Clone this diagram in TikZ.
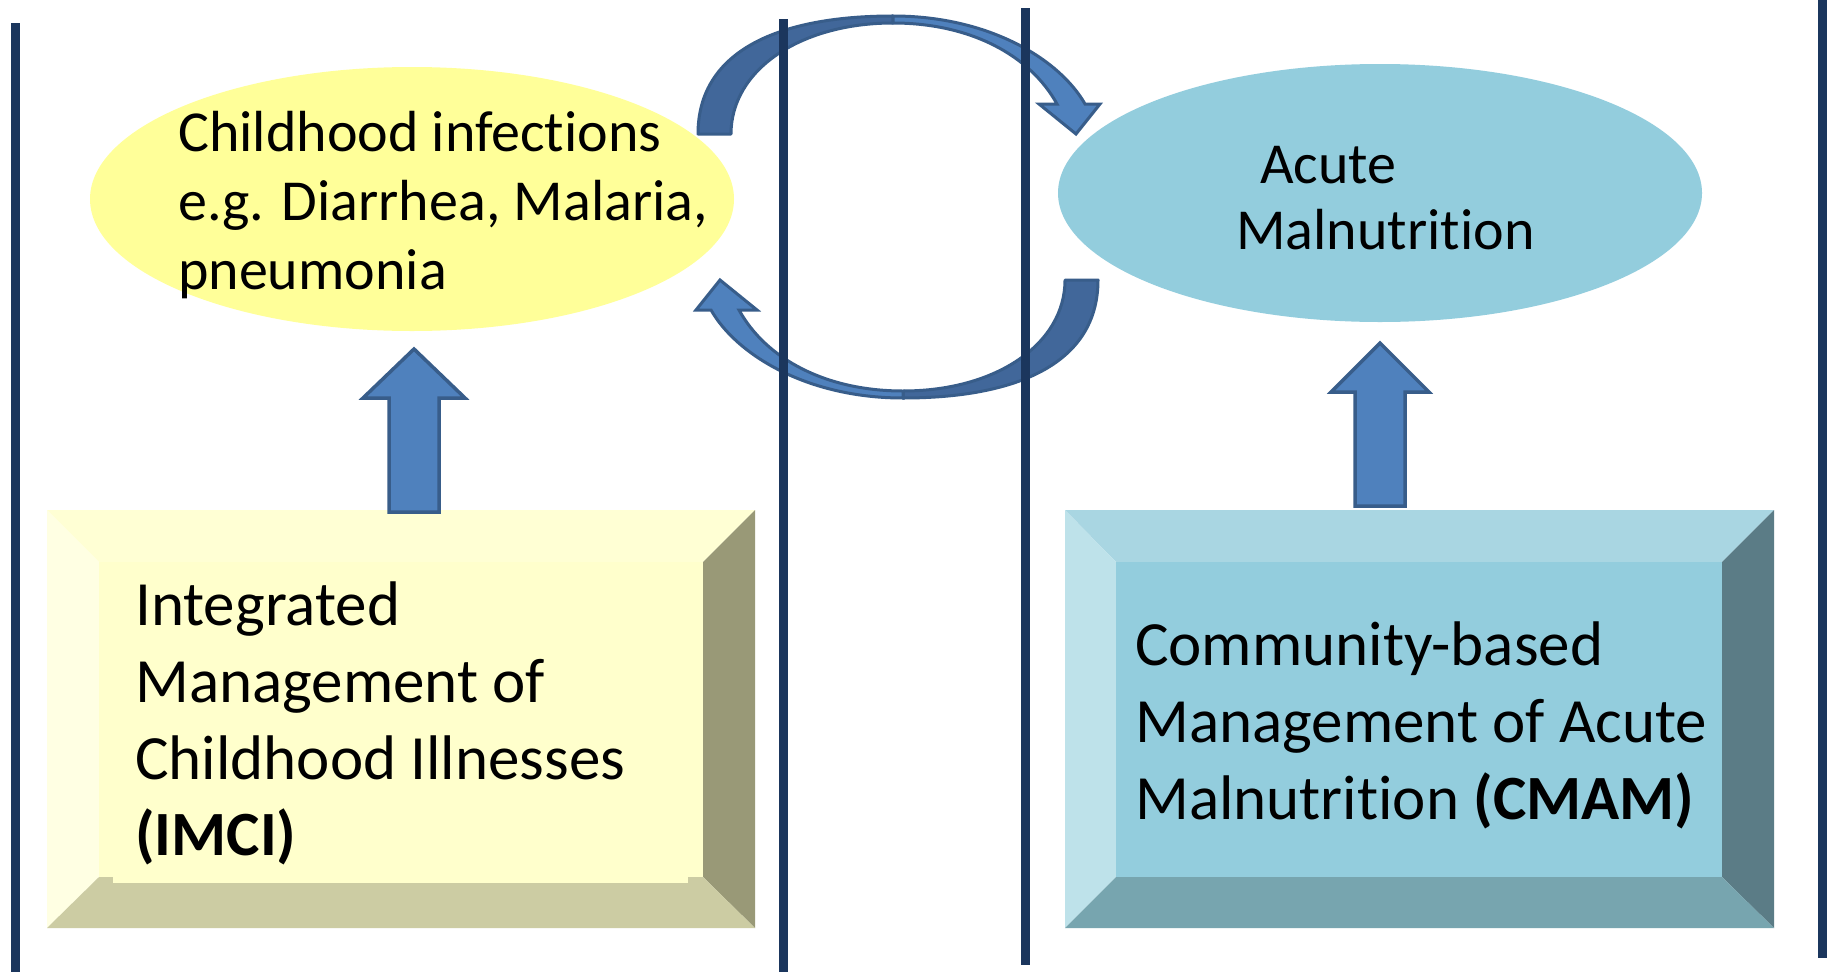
\documentclass[tikz,border=0pt]{standalone}
\usepackage{fontspec}
\setmainfont{Carlito}[Ligatures={NoCommon}]
\usetikzlibrary{shapes.geometric}
\definecolor{navyline}{HTML}{1B365D}
\definecolor{yelfill}{HTML}{FFFF99}
\definecolor{bluefill}{HTML}{93CDDD}
\definecolor{arrfill}{HTML}{4F81BD}
\definecolor{arrdark}{HTML}{41679A}
\definecolor{arredge}{HTML}{385D8A}
\definecolor{yInner}{HTML}{FFFFCC}
\definecolor{yTop}{HTML}{FFFFD4}
\definecolor{yLeft}{HTML}{FFFFE3}
\definecolor{yRight}{HTML}{999977}
\definecolor{yBottom}{HTML}{CCCCA3}
\definecolor{bInner}{HTML}{93CDDD}
\definecolor{bTop}{HTML}{A9D6E2}
\definecolor{bLeft}{HTML}{BEE2EA}
\definecolor{bRight}{HTML}{5B7C86}
\definecolor{bBottom}{HTML}{77A5AF}
\begin{document}
\begin{tikzpicture}[x=1pt,y=-1pt,
  elltext/.style={anchor=base west, inner sep=0pt, font=\fontsize{58}{69}\selectfont},
  boxtext/.style={anchor=base west, inner sep=0pt, font=\fontsize{63}{77}\selectfont},
  vline/.style={draw=navyline, line width=9pt},
  blockarrow/.style={fill=arrfill, draw=arredge, line width=3.5pt, line join=miter},
  darkpart/.style={fill=arrdark, draw=arredge, line width=3pt, line join=round},
  lightpart/.style={fill=arrfill, draw=arredge, line width=3pt, line join=miter},
  ell/.style={ellipse, draw=none, inner sep=0pt}
]
\useasboundingbox (0,0) rectangle (1835,972);
\fill[white] (0,0) rectangle (1835,972);

% ellipses
\node[ell, fill=yelfill, minimum width=644pt, minimum height=264pt] (infect) at (412,199) {};
\node[ell, fill=bluefill, minimum width=644pt, minimum height=258pt] (acute) at (1380,193) {};

\node[elltext] (t1) at (178,151) {Childhood infections};
\node[elltext] (t2) at (178,220) {e.g. Diarrhea, Malaria,};
\node[elltext] (t3) at (178,289) {pneumonia};
\node[elltext] (t4) at (1260,183) {Acute};
\node[elltext] (t5) at (1236,249) {Malnutrition};

% IMCI bevel box
\fill[yTop] (47,510) -- (755,510) -- (703,562) -- (99,562) -- cycle;
\fill[yLeft] (47,510) -- (99,562) -- (99,877) -- (47,928) -- cycle;
\fill[yRight] (755,510) -- (755,928) -- (703,877) -- (703,562) -- cycle;
\fill[yBottom] (47,928) -- (755,928) -- (703,877) -- (99,877) -- cycle;
\fill[yInner] (99,562) rectangle (703,877);
\fill[yInner] (113,562) rectangle (688,883);
\node[boxtext] (b1) at (135,625) {Integrated};
\node[boxtext] (b2) at (135,702) {Management of};
\node[boxtext] (b3) at (135,779) {Childhood Illnesses};
\node[boxtext] (b4) at (135,855) {\textbf{(IMCI)}};

% CMAM bevel box
\fill[bTop] (1065,510) -- (1774,510) -- (1722,562) -- (1116,562) -- cycle;
\fill[bLeft] (1065,510) -- (1116,562) -- (1116,877) -- (1065,928) -- cycle;
\fill[bRight] (1774,510) -- (1774,928) -- (1722,877) -- (1722,562) -- cycle;
\fill[bBottom] (1065,928) -- (1774,928) -- (1722,877) -- (1116,877) -- cycle;
\fill[bInner] (1116,562) rectangle (1722,877);
\node[boxtext] (c1) at (1135,665) {Community-based};
\node[boxtext] (c2) at (1135,742) {Management of Acute};
\node[boxtext] (c3) at (1135,819) {Malnutrition \textbf{(CMAM)}};

% up arrows
\draw[blockarrow] (389,512) -- (389,398) -- (363,398) -- (414,349) -- (465,398) -- (439,398) -- (439,512) -- cycle;
\draw[blockarrow] (1355,506) -- (1355,392) -- (1331,392) -- (1380,343) -- (1429,392) -- (1405,392) -- (1405,506) -- cycle;

% circular arrows
\foreach \ang in {0,180}{
  \begin{scope}[rotate around={\ang:(898,207)}]
    \draw[darkpart] (698,134) .. controls (698,50) and (780,16) .. (893,16)
      -- (893,23) .. controls (800,23) and (731,70) .. (731,134) -- cycle;
    \draw[lightpart] (893,16) .. controls (990,16) and (1060,60) .. (1085,104)
      -- (1100,104) -- (1076,134) -- (1039,104) -- (1057,104)
      .. controls (1030,55) and (970,23) .. (893,23) -- cycle;
  \end{scope}
}

% vertical lines
\draw[vline] (15,23) -- (15,972);
\draw[vline] (783,19) -- (783,972);
\draw[vline] (1025,8) -- (1025,965);
\draw[vline] (1822,0) -- (1822,958);
\end{tikzpicture}
\end{document}
